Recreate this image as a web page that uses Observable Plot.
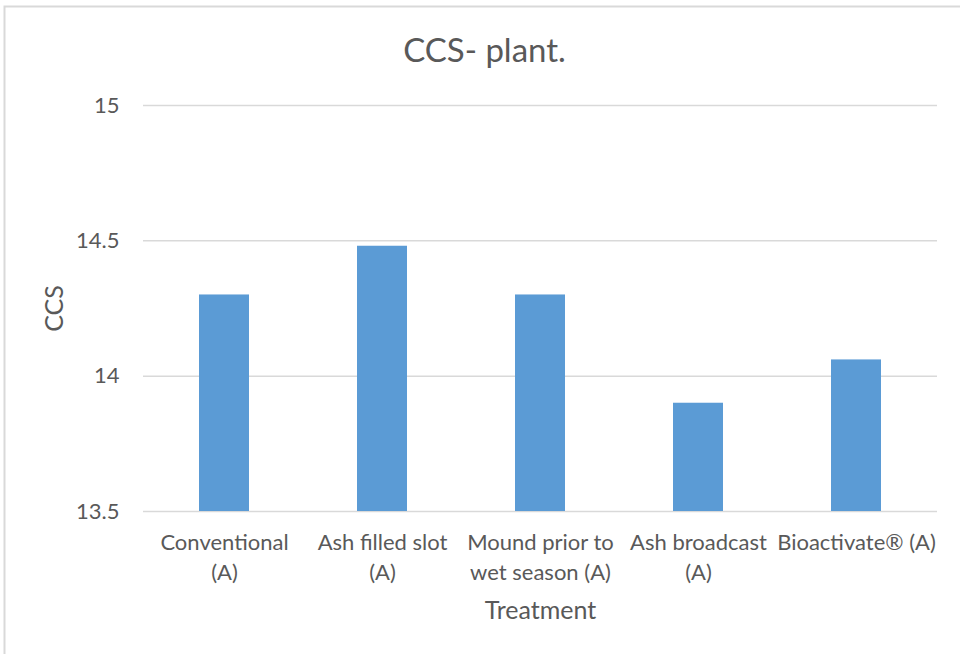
<!DOCTYPE html>
<html>
<head>
<meta charset="utf-8">
<script src="https://cdn.jsdelivr.net/npm/d3@7"></script>
<script src="https://cdn.jsdelivr.net/npm/@observablehq/plot@0.6"></script>
<style>
  html, body { margin: 0; padding: 0; background: #fff; }
</style>
</head>
<body>
<div id="chart"></div>
<script>
const title = "CCS- plant.";
const yLabel = "CCS";
const xLabel = "Treatment";
const categories = ["Conventional (A)", "Ash filled slot (A)", "Mound prior to wet season (A)", "Ash broadcast (A)", "Bioactivate® (A)"];
const tickLabels = ["Conventional\n(A)", "Ash filled slot\n(A)", "Mound prior to\nwet season (A)", "Ash broadcast\n(A)", "Bioactivate® (A)"];
const ccsValues = [14.30, 14.48, 14.30, 13.90, 14.06];
const yTicks = [13.5, 14, 14.5, 15];

const data = categories.map((c, i) => ({treatment: c, ccs: ccsValues[i]}));
const textColor = "#595959";
const gridColor = "#d9d9d9";

const chart = Plot.plot({
  width: 960,
  height: 654,
  marginLeft: 143,
  marginRight: 23,
  marginTop: 105,
  marginBottom: 143,
  style: {fontFamily: "Lato, 'Open Sans', sans-serif", fontSize: "22px", color: textColor, background: "#fff"},
  x: {domain: categories, paddingInner: 0.685, paddingOuter: 0.3425, label: null},
  y: {domain: [yTicks[0], yTicks[yTicks.length - 1]], label: null},
  marks: [
    Plot.frame({stroke: gridColor, strokeWidth: 2, insetLeft: -139, insetTop: -99, insetRight: -40, insetBottom: -160}),
    Plot.gridY(yTicks, {stroke: gridColor, strokeOpacity: 1, strokeWidth: 1.5}),
    Plot.barY(data, {x: "treatment", y1: yTicks[0], y2: "ccs", fill: "#5B9BD5"}),
    Plot.axisY(yTicks, {tickSize: 0, tickPadding: 24, fontSize: 22, fill: textColor, label: null, tickFormat: d => String(d)}),
    Plot.axisX({tickSize: 0, tickPadding: 17, fontSize: 22, fill: textColor, lineHeight: 1.36, label: null,
      tickFormat: d => tickLabels[categories.indexOf(d)]}),
    Plot.text([title], {frameAnchor: "top", dx: -56, dy: -67, fontSize: 33, fill: textColor}),
    Plot.text([yLabel], {frameAnchor: "left", dx: -89, rotate: -90, textAnchor: "middle", fontSize: 25, fill: textColor}),
    Plot.text([xLabel], {frameAnchor: "bottom", dy: 107, fontSize: 25, fill: textColor})
  ]
});
document.getElementById("chart").appendChild(chart);
</script>
</body>
</html>
